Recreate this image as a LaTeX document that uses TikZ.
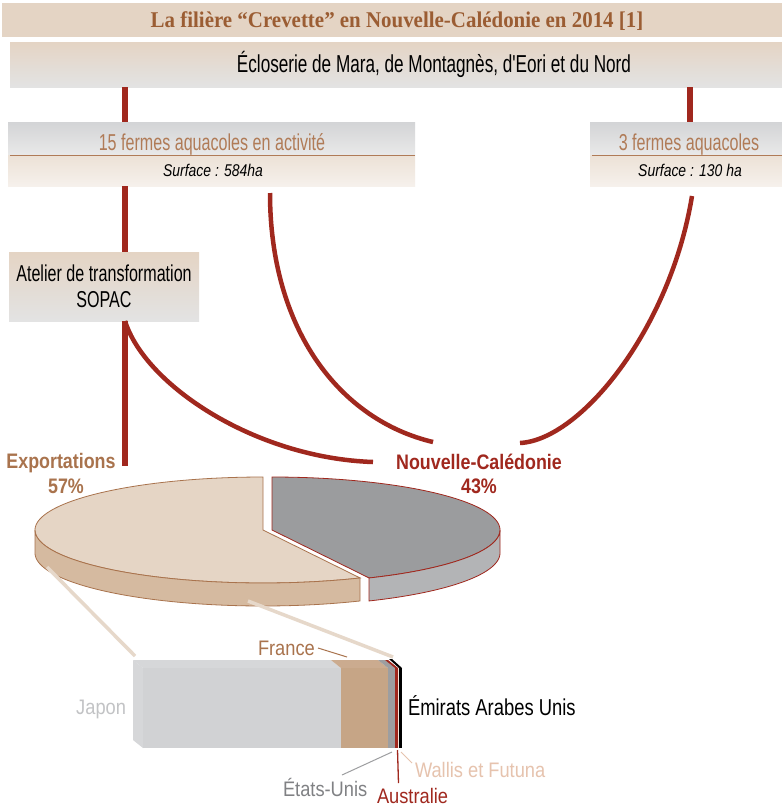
\documentclass[tikz,border=0pt]{standalone}
\usepackage{fontspec}
\setmainfont{Liberation Sans}
\newfontfamily\titlefont[FakeStretch=0.93]{Liberation Serif}
\newfontfamily\condA[FakeStretch=0.70]{Liberation Sans}
\newfontfamily\condI[FakeStretch=0.82]{Liberation Sans}
\newfontfamily\condB[FakeStretch=0.87]{Liberation Sans}
\newfontfamily\condC[FakeStretch=0.80]{Liberation Sans}
\newfontfamily\condBold[FakeStretch=0.85]{Liberation Sans}
\definecolor{beige}{HTML}{E4D4C4}
\definecolor{lgray}{HTML}{E3E3E3}
\definecolor{titlebrown}{HTML}{9B5D33}
\definecolor{brownT}{HTML}{A9734D}
\definecolor{brownL}{HTML}{B07B57}
\definecolor{dred}{HTML}{A0281E}
\definecolor{grayTop}{HTML}{D3D4D6}
\definecolor{grayBot}{HTML}{E9E9E9}
\definecolor{creamTop}{HTML}{ECE1D6}
\definecolor{creamBot}{HTML}{F6F1EC}
\definecolor{exTop}{HTML}{E5D5C5}
\definecolor{exSide}{HTML}{D5BAA0}
\definecolor{ncTop}{HTML}{9B9C9E}
\definecolor{ncSide}{HTML}{B3B4B6}
\definecolor{japon}{HTML}{D1D2D4}
\definecolor{japonL}{HTML}{D6D7D9}
\definecolor{france}{HTML}{C6A586}
\definecolor{franceL}{HTML}{CBAB8F}
\definecolor{usgray}{HTML}{9D9EA0}
\definecolor{japtext}{HTML}{C2C3C5}
\definecolor{ustext}{HTML}{808184}
\definecolor{wallis}{HTML}{E6C3AE}
\definecolor{tanline}{HTML}{E6D8CA}
\tikzset{
  box/.style={inner sep=0pt, outer sep=0pt, draw=none},
  txt/.style={inner sep=0pt, outer sep=0pt, anchor=base},
  redline/.style={draw=dred, line width=6pt},
  redcurve/.style={draw=dred, line width=4.5pt},
  tanconn/.style={draw=tanline, line width=3.5pt},
  sepline/.style={draw=brownL, line width=1pt},
}
\begin{document}
\begin{tikzpicture}[x=1pt,y=-1pt]
\useasboundingbox[fill=white] (0,0) rectangle (782,809);

% title
\node[box, fill=beige, minimum width=780, minimum height=34] (titlebar) at (392,20) {};
\node[txt, text=titlebrown] (titletext) at (397,27) {\titlefont\bfseries\fontsize{22.5}{26}\selectfont La filière “Crevette” en Nouvelle-Calédonie en 2014 [1]};

% ecloserie
\node[box, top color=beige, bottom color=lgray, minimum width=772, minimum height=45] (eclo) at (396,64.5) {};
\node[txt] (eclotext) at (434,72) {\condA\fontsize{24.5}{28}\selectfont Écloserie de Mara, de Montagnès, d'Eori et du Nord};

% 15 fermes
\node[box, top color=grayTop, bottom color=grayBot, minimum width=407, minimum height=33] (f15top) at (211.5,138.5) {};
\node[box, top color=creamTop, bottom color=creamBot, minimum width=407, minimum height=31] (f15bot) at (211.5,170.5) {};
\draw[sepline] (f15top.south west) ++(2,0) -- (f15top.south east);
\node[txt, text=brownL] (f15text) at (212,150) {\condA\fontsize{23}{26}\selectfont 15 fermes aquacoles en activité};
\node[txt] (f15surf) at (213,176) {\condI\itshape\fontsize{17}{20}\selectfont Surface : 584ha};

% 3 fermes
\node[box, top color=grayTop, bottom color=grayBot, minimum width=192, minimum height=33] (f3top) at (686,138.5) {};
\node[box, top color=creamTop, bottom color=creamBot, minimum width=192, minimum height=31] (f3bot) at (686,170.5) {};
\draw[sepline] (f3top.south west) ++(2,0) -- (f3top.south east);
\node[txt, text=brownL] (f3text) at (689,150) {\condA\fontsize{23}{26}\selectfont 3 fermes aquacoles};
\node[txt] (f3surf) at (690,176) {\condI\itshape\fontsize{17}{20}\selectfont Surface : 130 ha};

% atelier
\node[box, top color=beige, bottom color=lgray, minimum width=190, minimum height=69] (atelier) at (104,286.5) {};
\node[txt] (ateltext1) at (104,281) {\condA\fontsize{23}{26}\selectfont Atelier de transformation};
\node[txt] (ateltext2) at (104,307) {\condA\fontsize{23}{26}\selectfont SOPAC};

% x positions of connectors
\coordinate (xL) at (125,0);
\coordinate (xR) at (690,0);
\coordinate (startB) at (270,193);
\coordinate (startC) at (692,196);
\coordinate (endA) at (373,462);
\coordinate (endB) at (433,442);
\coordinate (endC) at (520,443);
\coordinate (endL) at (125,466);

% red connectors
\draw[redline] (eclo.south -| xL) -- (f15top.north -| xL);
\draw[redline] (eclo.south -| xR) -- (f3top.north -| xR);
\draw[redline] (f15bot.south -| xL) -- (atelier.north -| xL);
\draw[redline] (atelier.south -| xL) -- (endL);
\draw[redcurve] (atelier.south -| xL) .. controls (145,385) and (255,458) .. (endA);
\draw[redcurve] (startB) .. controls (270,330) and (340,420) .. (endB);
\draw[redcurve] (startC) .. controls (670,330) and (580,440) .. (endC);

% pie labels
\node[txt, text=brownT] (exlab) at (61,468) {\condBold\bfseries\fontsize{21}{24}\selectfont Exportations};
\node[txt, text=brownT] (expct) at (66,493) {\condBold\bfseries\fontsize{21}{24}\selectfont 57\%};
\node[txt, text=dred] (nclab) at (479,469) {\condBold\bfseries\fontsize{21}{24}\selectfont Nouvelle-Calédonie};
\node[txt, text=dred] (ncpct) at (479,493) {\condBold\bfseries\fontsize{21}{24}\selectfont 43\%};

% pie: Nouvelle-Caledonie slice
\filldraw[fill=ncTop, draw=dred, line width=0.8pt] (272,530) -- plot[domain=-64.8:90, samples=90] ({272+228*cos(\x)},{530-53*sin(\x)}) -- cycle;
\filldraw[fill=ncSide, draw=dred, line width=0.8pt] plot[domain=-64.8:0, samples=40] ({272+228*cos(\x)},{530-53*sin(\x)}) -- plot[domain=0:-64.8, samples=40] ({272+228*cos(\x)},{553-53*sin(\x)}) -- cycle;
% pie: exportations slice
\filldraw[fill=exTop, draw=brownT, line width=0.8pt] (263,530) -- plot[domain=90:295.2, samples=110] ({263+228*cos(\x)},{530-53*sin(\x)}) -- cycle;
\filldraw[fill=exSide, draw=brownT, line width=0.8pt] plot[domain=180:295.2, samples=60] ({263+228*cos(\x)},{530-53*sin(\x)}) -- plot[domain=295.2:180, samples=60] ({263+228*cos(\x)},{553-53*sin(\x)}) -- cycle;

% connectors pie -> bar
\coordinate (p1) at (47,567);
\coordinate (b1) at (135,656);
\coordinate (p2) at (248,601);
\coordinate (b2) at (393,657);
\draw[tanconn] (p1) -- (b1);
\draw[tanconn] (p2) -- (b2);

% bar
\fill[japonL] (133,660) -- (143,668) -- (143,748) -- (133,740) -- cycle;
\fill[japonL] (133,660) -- (331,660) -- (341,668) -- (143,668) -- cycle;
\fill[japon] (143,668) rectangle (341,748);
\fill[franceL] (331,660) -- (378,660) -- (388,668) -- (341,668) -- cycle;
\fill[france] (341,668) rectangle (388,748);
\fill[usgray] (378,660) -- (385,660) -- (395,668) -- (388,668) -- cycle;
\fill[usgray] (388,668) rectangle (395,748);
\fill[dred] (385,660) -- (388,660) -- (398,668) -- (395,668) -- cycle;
\fill[dred] (395,668) rectangle (398,748);
\fill[wallis!40] (398,668) rectangle (399,748);
\fill[black] (389,659) -- (392,659) -- (402,668) -- (399,668) -- cycle;
\fill[black] (399,668) rectangle (402,748);

% bar labels
\node[txt, anchor=base east, text=japtext] (japon) at (126,714) {\condB\fontsize{21}{24}\selectfont Japon};
\node[txt, anchor=base west, text=brownT] (franceLab) at (258,655) {\condB\fontsize{21}{24}\selectfont France};
\node[txt, anchor=base west] (emirats) at (408,715) {\condC\fontsize{23}{26}\selectfont Émirats Arabes Unis};
\node[txt, anchor=base west, text=wallis] (wallisLab) at (415,777) {\condB\fontsize{21}{24}\selectfont Wallis et Futuna};
\node[txt, anchor=base west, text=ustext] (usLab) at (283,796) {\condB\fontsize{21}{24}\selectfont États-Unis};
\node[txt, anchor=base west, text=dred] (ausLab) at (377,803) {\condB\fontsize{21}{24}\selectfont Australie};

% leader lines
\coordinate (frA) at (318,648);
\coordinate (frB) at (347,657);
\coordinate (usA) at (342,775);
\coordinate (usB) at (392,752);
\coordinate (auA) at (397.5,750);
\coordinate (auB) at (398.5,783);
\coordinate (waA) at (401,752);
\coordinate (waB) at (412,763);
\draw[draw=brownT, line width=1pt] (frA) -- (frB);
\draw[draw=usgray, line width=1pt] (usA) -- (usB);
\draw[draw=dred, line width=1.3pt] (auA) -- (auB);
\draw[draw=wallis, line width=1pt] (waA) -- (waB);
\end{tikzpicture}
\end{document}
